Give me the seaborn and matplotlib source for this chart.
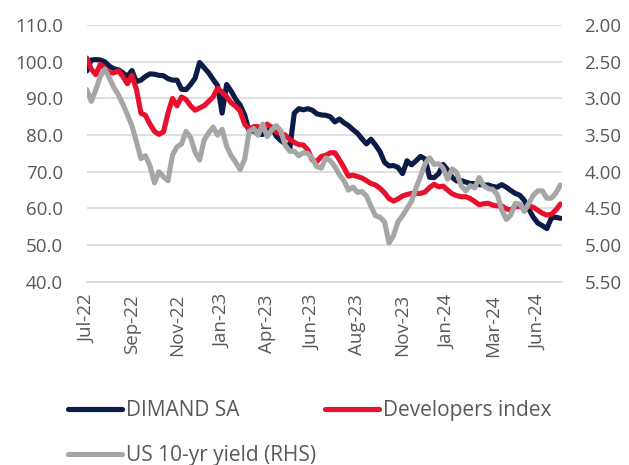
import numpy as np
import pandas as pd
import matplotlib
matplotlib.use("Agg")
import matplotlib.pyplot as plt
import matplotlib.dates as mdates
import matplotlib.ticker as mticker
import seaborn as sns

# ── Data (weekly readings) ───────────────────────────────────────────────
start = "2022-07-04"

dimand = [97.5, 100.5, 100.6, 100.5, 100.0, 98.8, 98.1, 97.8, 97.0, 96.0,
          97.6, 94.6, 95.0, 96.0, 96.7, 96.6, 96.3, 96.2, 95.4, 95.0,
          95.0, 92.5, 92.4, 93.8, 95.5, 99.8, 98.4, 97.0, 95.2, 93.5,
          86.0, 93.8, 92.0, 89.8, 88.2, 85.5, 81.0, 81.2, 80.2, 80.2,
          81.8, 82.2, 79.7, 78.5, 77.7, 76.3, 86.0, 87.2, 86.9, 87.2,
          86.8, 85.8, 85.5, 85.4, 85.0, 83.6, 84.4, 83.4, 82.6, 81.5,
          80.5, 79.0, 77.6, 78.9, 77.3, 75.5, 72.6, 71.6, 71.7, 71.2,
          69.5, 73.0, 71.9, 73.0, 74.2, 73.5, 68.5, 68.4, 69.5, 72.0,
          70.5, 68.5, 67.5, 67.6, 67.2, 66.8, 66.8, 66.5, 66.4, 66.4,
          66.0, 65.8, 66.5, 65.8, 64.9, 64.1, 63.6, 62.2, 59.8, 57.6,
          56.0, 55.3, 54.5, 57.4, 57.6, 57.3]

developers = [101.0, 98.0, 96.5, 99.3, 98.2, 97.0, 97.0, 97.5, 96.0, 94.0,
              96.3, 92.5, 86.0, 85.4, 83.0, 81.0, 80.2, 80.9, 86.0, 90.0,
              88.0, 90.4, 89.7, 88.0, 86.8, 87.4, 88.0, 89.2, 90.4, 92.8,
              91.7, 90.5, 88.8, 87.9, 86.5, 83.0, 81.6, 82.3, 82.3, 81.5,
              83.0, 82.0, 80.8, 80.5, 80.0, 78.8, 78.0, 77.4, 77.3, 76.0,
              73.2, 72.8, 74.2, 74.5, 75.2, 75.2, 73.3, 71.2, 68.8, 69.1,
              68.7, 68.3, 67.6, 66.8, 66.4, 65.5, 64.3, 62.7, 62.0, 62.6,
              63.4, 63.8, 64.1, 64.1, 64.1, 64.5, 65.7, 66.6, 65.9, 66.1,
              65.0, 64.0, 63.5, 63.2, 63.2, 62.7, 61.9, 61.0, 61.3, 61.4,
              60.9, 60.7, 60.7, 59.9, 59.6, 60.5, 60.5, 60.1, 60.7, 60.3,
              59.5, 58.7, 58.2, 58.4, 59.6, 61.2]

us10y = [2.88, 3.04, 2.88, 2.70, 2.60, 2.72, 2.85, 2.95, 3.08, 3.22,
         3.37, 3.59, 3.82, 3.78, 3.92, 4.15, 4.00, 4.07, 4.12, 3.77,
         3.66, 3.62, 3.45, 3.53, 3.73, 3.84, 3.57, 3.47, 3.39, 3.50,
         3.42, 3.65, 3.78, 3.87, 3.97, 3.83, 3.45, 3.41, 3.50, 3.35,
         3.52, 3.43, 3.37, 3.44, 3.64, 3.72, 3.72, 3.78, 3.74, 3.75,
         3.82, 3.93, 3.95, 3.81, 3.85, 3.93, 4.04, 4.12, 4.25, 4.21,
         4.28, 4.27, 4.33, 4.47, 4.60, 4.62, 4.68, 4.97, 4.87, 4.68,
         4.60, 4.50, 4.40, 4.22, 4.06, 3.89, 3.81, 3.90, 3.89, 3.95,
         4.10, 3.96, 4.01, 4.19, 4.26, 4.19, 4.22, 4.08, 4.19, 4.23,
         4.24, 4.31, 4.52, 4.65, 4.59, 4.43, 4.44, 4.54, 4.43, 4.32,
         4.26, 4.26, 4.36, 4.36, 4.29, 4.18]

labels = ["DIMAND SA", "Developers index", "US 10-yr yield (RHS)"]

NAVY = "#0B1C48"
RED = "#E8112D"
GRAY = "#A6A6A6"
TXT = "#595959"
GRID = "#D9D9D9"

df = pd.DataFrame({
    "date": pd.date_range(start, periods=len(dimand), freq="7D"),
    "dimand": dimand,
    "developers": developers,
    "us10y": us10y,
})

# ── Style ────────────────────────────────────────────────────────────────
sns.set_style("white")
plt.rcParams["font.family"] = ["Open Sans", "DejaVu Sans"]
FS = 13.5

fig, ax = plt.subplots(figsize=(6.29, 4.65), dpi=100)
fig.subplots_adjust(left=0.138, right=0.894, bottom=0.394, top=0.946)
ax2 = ax.twinx()

lw = 3.7
sns.lineplot(data=df, x="date", y="dimand", ax=ax, color=NAVY, linewidth=lw,
             legend=False, solid_joinstyle="round", solid_capstyle="round")
sns.lineplot(data=df, x="date", y="developers", ax=ax, color=RED, linewidth=lw,
             legend=False, solid_joinstyle="round", solid_capstyle="round")
sns.lineplot(data=df, x="date", y="us10y", ax=ax2, color=GRAY, linewidth=lw,
             legend=False, solid_joinstyle="round", solid_capstyle="round")

# left axis
ax.set_ylim(40, 110)
ax.set_yticks(np.arange(40, 111, 10))
ax.yaxis.set_major_formatter(mticker.FuncFormatter(lambda v, p: f"{v:.1f}"))
ax.grid(axis="y", color=GRID, linewidth=1.2)
ax.grid(axis="x", visible=False)
ax.set_axisbelow(True)

# right axis (inverted)
ax2.set_ylim(5.5, 2.0)
ax2.set_yticks(np.arange(2.0, 5.51, 0.5))
ax2.yaxis.set_major_formatter(mticker.FuncFormatter(lambda v, p: f"{v:.2f}"))

# x axis
t0 = pd.Timestamp(start)
ax.set_xlim(t0, t0 + pd.Timedelta(days=738))
ax.set_xticks([t0 + pd.Timedelta(days=70 * k) for k in range(11)])
ax.xaxis.set_major_formatter(mdates.DateFormatter("%b-%y"))

for a in (ax, ax2):
    for s in a.spines.values():
        s.set_visible(False)
    a.set_xlabel("")
    a.set_ylabel("")
ax.spines["bottom"].set_visible(True)
ax.spines["bottom"].set_color(GRID)
ax.spines["bottom"].set_linewidth(1.2)

ax.tick_params(axis="y", length=0, pad=17, labelsize=FS, labelcolor=TXT)
ax2.tick_params(axis="y", length=0, pad=16, labelsize=FS, labelcolor=TXT)
ax.tick_params(axis="x", length=4, width=1.2, color=GRID, pad=5,
               labelsize=FS, labelcolor=TXT, rotation=90)

# legend: row 1 DIMAND / Developers, row 2 US yield
h = ax.get_lines()[:2] + ax2.get_lines()[:1]
order = [0, 2, 1]
fig.legend([h[i] for i in order], [labels[i] for i in order],
           loc="upper left", bbox_to_anchor=(0.095, 1 - 392 / 465),
           bbox_transform=fig.transFigure, ncol=2, frameon=False,
           fontsize=15, labelcolor=TXT, handlelength=2.6, handletextpad=0.2,
           columnspacing=0.4, labelspacing=1.15, borderaxespad=0)

fig.savefig("out.png", dpi=100)
